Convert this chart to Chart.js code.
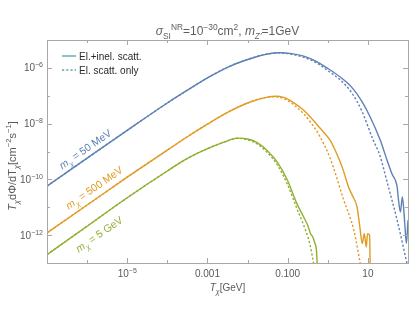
<!DOCTYPE html>
<html><head><meta charset="utf-8">
<script src="https://cdn.jsdelivr.net/npm/chart.js@4.4.1/dist/chart.umd.min.js"></script>
<style>html,body{margin:0;padding:0;background:#fff;}#wrap{width:415px;height:312px;}</style>
</head><body><div id="wrap"><canvas id="c" width="415" height="312"></canvas></div>
<script>
// ---------------- data ----------------
// m_chi = 50 MeV, elastic + inelastic
const tBlue = [1e-7,1e-6,1e-5,1e-4,3.16e-4,1e-3,3.16e-3,0.01,0.0316,0.0631,0.126,0.251,0.501,1,2.0,3.98,7.08,11.5,20.4,30.2,39.8,53.7,57.5,64.6,72.4,83.2,91.2,100];
const fluxBlue = [5.75e-11,5.75e-10,5.75e-9,5.5e-8,1.58e-7,4.37e-7,1.05e-6,2.0e-6,3.16e-6,3.47e-6,3.24e-6,2.63e-6,1.74e-6,9.55e-7,4.79e-7,2.0e-7,6.31e-8,1.7e-8,2.51e-9,4.79e-10,1.58e-10,5.25e-11,2.04e-11,6.76e-12,2.34e-11,2.51e-12,5.01e-13,3.39e-12];
// m_chi = 50 MeV, elastic only
const tBlueEl = [1e-7,1e-6,1e-5,1e-4,3.16e-4,1e-3,3.16e-3,0.01,0.0316,0.0631,0.126,0.251,0.501,1,2.0,3.98,7.08,13.2,20.0,30.2,53.7,95.5];
const fluxBlueEl = [5.75e-11,5.75e-10,5.75e-9,5.5e-8,1.58e-7,4.37e-7,1.05e-6,2.0e-6,3.16e-6,3.45e-6,3.09e-6,2.40e-6,1.58e-6,7.94e-7,3.80e-7,1.26e-7,2.82e-8,2.82e-9,7.08e-10,7.94e-11,3.39e-12,8.9e-14];
// m_chi = 500 MeV, elastic + inelastic
const tOrange = [1e-7,1e-6,1e-5,1e-4,3.16e-4,1e-3,3.16e-3,0.01,0.0316,0.0501,0.0794,0.126,0.251,0.372,0.631,1.15,1.58,2.29,3.31,4.17,5.37,6.31,7.24,8.13,9.12,9.77,11.0,11.5];
const fluxOrange = [1.2e-12,1.2e-11,1.2e-10,1.12e-9,3.39e-9,9.55e-9,2.51e-8,5.5e-8,8.91e-8,9.55e-8,8.71e-8,6.31e-8,3.02e-8,1.7e-8,7.08e-9,2.51e-9,1.0e-9,2.75e-10,5.25e-11,2.51e-11,1.02e-11,1.95e-12,5.01e-13,1.12e-12,3.72e-13,1.12e-12,1.0e-12,3.16e-14];
// m_chi = 500 MeV, elastic only
const tOrangeEl = [1e-7,1e-6,1e-5,1e-4,3.16e-4,1e-3,3.16e-3,0.01,0.0316,0.0501,0.0794,0.126,0.251,0.372,0.631,1.15,2.51,4.47,6.61];
const fluxOrangeEl = [1.2e-12,1.2e-11,1.2e-10,1.12e-9,3.39e-9,9.55e-9,2.51e-8,5.5e-8,8.91e-8,9.12e-8,7.94e-8,5.37e-8,2.24e-8,1.12e-8,3.55e-9,5.62e-10,1.78e-11,1.48e-12,7.94e-14];
// m_chi = 5 GeV, elastic + inelastic
const tGreen = [1e-7,1e-6,1e-5,1e-4,3.16e-4,1e-3,3.16e-3,5.5e-3,0.01,0.0174,0.0316,0.0562,0.1,0.170,0.251,0.316,0.372,0.417,0.468,0.525,0.55];
const fluxGreen = [2.0e-13,2.09e-12,2.19e-11,2.0e-10,5.62e-10,1.26e-9,2.4e-9,3.02e-9,2.82e-9,2.09e-9,1.05e-9,3.98e-10,8.91e-11,1.35e-11,4.47e-12,2.24e-12,1.12e-12,8.91e-13,5.62e-13,2.51e-13,6.31e-14];
// m_chi = 5 GeV, elastic only
const tGreenEl = [1e-7,1e-6,1e-5,1e-4,3.16e-4,1e-3,3.16e-3,5.5e-3,0.01,0.0174,0.0316,0.0562,0.1,0.170,0.251,0.355,0.468];
const fluxGreenEl = [2.0e-13,2.09e-12,2.19e-11,2.0e-10,5.62e-10,1.26e-9,2.4e-9,2.98e-9,2.63e-9,1.86e-9,8.91e-10,3.16e-10,6.31e-11,8.91e-12,2.24e-12,5.01e-13,6.31e-14];

const xTickValues = [1e-7,1e-6,1e-5,1e-4,1e-3,1e-2,1e-1,1,10,100];
const xTickLabels = ['','','10^−5','','0.001','','0.100','','10',''];
const yTickValues = [1e-13,1e-12,1e-11,1e-10,1e-9,1e-8,1e-7,1e-6,1e-5];
const yTickLabels = ['','10^−12','','10^−10','','10^−8','','10^−6',''];
const legendLabels = ['El.+inel. scatt.','El. scatt. only'];
const massLabels = ['50 MeV','500 MeV','5 GeV'];
// label anchors in data units (T, flux)
const massLabelT = [9.0e-7,1.5e-6,2.0e-6];
const massLabelFlux = [1.2e-9,5.0e-11,1.07e-12];

// ---------------- styling ----------------
const C_BLUE = '#5e81b5', C_ORANGE = '#e19c24', C_GREEN = '#8fb032', C_LEG = '#5aa8b6';
const FONT = '"Liberation Sans", Arial, Helvetica, sans-serif';
const FRAME = '#a8a8a8', LABEL = '#5a5a5a';

function pts(xs, ys){ return xs.map((x,i)=>({x:x, y:ys[i]})); }
function ds(xs, ys, color, dashed){
  return {data: pts(xs,ys), borderColor: color, borderWidth: 1.4, pointRadius: 0,
    borderDash: dashed ? [2.2,2] : [], fill:false, tension:0, cubicInterpolationMode:'monotone'};
}

function segFont(s, size){
  const sz = (s.b||s.p) ? size*0.7 : size;
  return (s.i ? 'italic ' : '') + sz.toFixed(2) + 'px ' + FONT;
}
function mk(arr){ return arr.map(a=>({t:a[0], i:a[1].includes('i'), b:a[1].includes('b'), p:a[1].includes('p')})); }
function rw(ctx, segs, size){ let w=0; for(const s of segs){ ctx.font=segFont(s,size); w+=ctx.measureText(s.t).width; } return w; }
function drawRich(ctx, segs, x, y, size, color, align){
  const w = rw(ctx, segs, size);
  let cx = align==='center' ? x-w/2 : align==='right' ? x-w : x;
  ctx.fillStyle = color; ctx.textAlign='left'; ctx.textBaseline='alphabetic';
  for(const s of segs){
    ctx.font = segFont(s,size);
    const dy = s.b ? size*0.3 : s.p ? -size*0.42 : 0;
    ctx.fillText(s.t, cx, y+dy);
    cx += ctx.measureText(s.t).width;
  }
}
function tickSegs(lbl){
  if(lbl.includes('^')){ const [a,b]=lbl.split('^'); return mk([[a,''],[b,'p']]); }
  return mk([[lbl,'']]);
}

const deco = {
  id:'deco',
  afterDraw(chart){
    const ctx = chart.ctx, a = chart.chartArea, xs = chart.scales.x, ys = chart.scales.y;
    ctx.save();
    // frame
    ctx.strokeStyle = FRAME; ctx.lineWidth = 1;
    ctx.strokeRect(Math.round(a.left)+0.5, Math.round(a.top)+0.5, Math.round(a.right-a.left), Math.round(a.bottom-a.top));
    // ticks (inward, all four sides)
    ctx.beginPath();
    xs.ticks.forEach((t,i)=>{
      const px = Math.round(xs.getPixelForValue(t.value))+0.5;
      const len = xTickLabels[i] ? 5 : 3;
      ctx.moveTo(px, a.bottom); ctx.lineTo(px, a.bottom-len);
      ctx.moveTo(px, a.top); ctx.lineTo(px, a.top+len);
    });
    ys.ticks.forEach((t,i)=>{
      const py = Math.round(ys.getPixelForValue(t.value))+0.5;
      const len = yTickLabels[i] ? 5 : 3;
      ctx.moveTo(a.left, py); ctx.lineTo(a.left+len, py);
      ctx.moveTo(a.right, py); ctx.lineTo(a.right-len, py);
    });
    ctx.stroke();
    // tick labels
    xs.ticks.forEach((t,i)=>{
      if(!xTickLabels[i]) return;
      drawRich(ctx, tickSegs(xTickLabels[i]), xs.getPixelForValue(t.value), a.bottom+14, 10, LABEL, 'center');
    });
    ys.ticks.forEach((t,i)=>{
      if(!yTickLabels[i]) return;
      drawRich(ctx, tickSegs(yTickLabels[i]), a.left-4, ys.getPixelForValue(t.value)+3.6, 10, LABEL, 'right');
    });
    const cxm = (a.left+a.right)/2;
    // title
    drawRich(ctx, mk([['σ','i'],['SI','b'],['NR','p'],['=10',''],['−30','p'],['cm',''],['2','p'],[', ',''],['m','i'],['Z′','ib'],['=1GeV','']]),
      cxm, a.top-5, 12, '#5f5f5f', 'center');
    // x title
    drawRich(ctx, mk([['T','i'],['χ','ib'],['[GeV]','']]), cxm, a.bottom+28, 10, LABEL, 'center');
    // y title
    ctx.save();
    ctx.translate(16, 166); ctx.rotate(-Math.PI/2);
    drawRich(ctx, mk([['T','i'],['χ','ib'],['dΦ/dT',''],['χ','ib'],['[cm',''],['−2','p'],['s',''],['−1','p'],[']','']]), 0, 0, 11, LABEL, 'center');
    ctx.restore();
    // legend
    const lx = a.left+15, ly1 = a.top+16, ly2 = a.top+30;
    ctx.strokeStyle = C_LEG; ctx.lineWidth = 1.4;
    ctx.setLineDash([]); ctx.beginPath(); ctx.moveTo(lx, ly1); ctx.lineTo(lx+14, ly1); ctx.stroke();
    ctx.setLineDash([2.2,2]); ctx.beginPath(); ctx.moveTo(lx, ly2); ctx.lineTo(lx+14, ly2); ctx.stroke();
    ctx.setLineDash([]);
    drawRich(ctx, mk([[legendLabels[0],'']]), lx+17, ly1+3.5, 10, '#2a2a2a', 'left');
    drawRich(ctx, mk([[legendLabels[1],'']]), lx+17, ly2+3.5, 10, '#2a2a2a', 'left');
    // curve labels, rotated along the slope-1 direction of the scales
    const ang = Math.atan2(ys.getPixelForValue(1e-9)-ys.getPixelForValue(1e-10), xs.getPixelForValue(1e-6)-xs.getPixelForValue(1e-7));
    const cols = [C_BLUE, C_ORANGE, C_GREEN];
    massLabels.forEach((m,i)=>{
      ctx.save();
      ctx.translate(xs.getPixelForValue(massLabelT[i]), ys.getPixelForValue(massLabelFlux[i]));
      ctx.rotate(ang);
      drawRich(ctx, mk([['m','i'],['χ','ib'],[' = '+m,'']]), 0, 3.5, 10.5, cols[i], 'center');
      ctx.restore();
    });
    ctx.restore();
  }
};

new Chart(document.getElementById('c'), {
  type:'line',
  data:{datasets:[
    ds(tBlue, fluxBlue, C_BLUE, false),
    ds(tOrange, fluxOrange, C_ORANGE, false),
    ds(tGreen, fluxGreen, C_GREEN, false),
    ds(tBlueEl, fluxBlueEl, C_BLUE, true),
    ds(tOrangeEl, fluxOrangeEl, C_ORANGE, true),
    ds(tGreenEl, fluxGreenEl, C_GREEN, true)
  ]},
  options:{
    responsive:false, animation:false, devicePixelRatio:1,
    layout:{padding:{top:40, right:7, left:0, bottom:0}},
    plugins:{legend:{display:false}, title:{display:false}, tooltip:{enabled:false}},
    scales:{
      x:{type:'logarithmic', min:1e-7, max:100, grid:{display:false}, border:{display:false}, ticks:{display:false},
         afterBuildTicks:s=>{ s.ticks = xTickValues.map(v=>({value:v})); }, afterFit:s=>{ s.height = 49; }},
      y:{type:'logarithmic', min:1e-13, max:1e-5, grid:{display:false}, border:{display:false}, ticks:{display:false},
         afterBuildTicks:s=>{ s.ticks = yTickValues.map(v=>({value:v})); }, afterFit:s=>{ s.width = 47; }}
    }
  },
  plugins:[deco]
});
</script></body></html>
